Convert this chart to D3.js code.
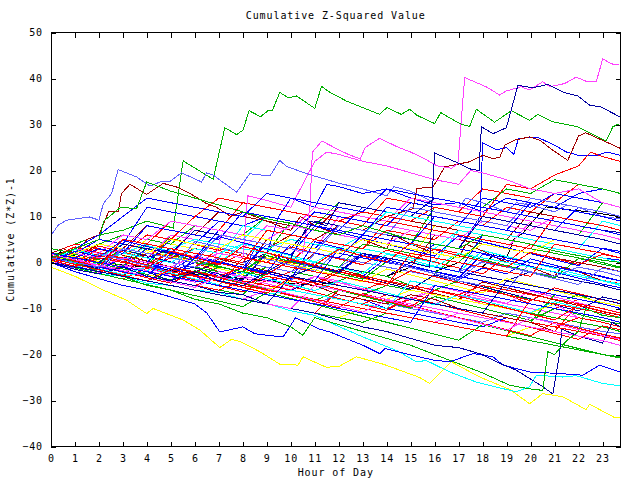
<!DOCTYPE html>
<html>
<head>
<meta charset="utf-8">
<script src="https://cdn.jsdelivr.net/npm/d3@7"></script>
<style>
  body { margin: 0; background: #fff; }
  text { font-family: "DejaVu Sans Mono", monospace; font-size: 10px; letter-spacing: 0.9px; fill: #000; }
</style>
</head>
<body>
<div id="chart"></div>
<script>
// ---------------- data ----------------
const title = "Cumulative Z-Squared Value";
const xLabel = "Hour of Day";
const yLabel = "Cumulative (Z*Z)-1";
const xTicks = [0,1,2,3,4,5,6,7,8,9,10,11,12,13,14,15,16,17,18,19,20,21,22,23];
const yTicks = [-40,-30,-20,-10,0,10,20,30,40,50];
const hourX = [0,1,2,3,4,5,6,7,8,9,10,11,12,13,14,15,16,17,18,19,20,21,22,23,23.75];

// traced lines: [hour, value]
const greenTop = [[0,2],[1,4],[2,6],[3,7],[4,9],[5.1,7.5],[5.51,22.1],[6.76,18.1],[7.25,29.3],[7.74,27.8],[8.01,28.8],[8.26,33],[8.74,31.7],[9.05,33],[9.23,33],[9.54,37],[9.89,35.8],[10.24,36.2],[11,33.5],[11.28,38.3],[11.63,37],[12.32,35.1],[13.71,32.2],[14.01,33.7],[14.61,32.2],[14.96,33.3],[15.26,32],[16,30.2],[16.25,32.6],[17.11,30],[17.46,29.6],[17.74,33.3],[18.5,30.5],[19.2,33],[19.96,30.9],[20.3,32.2],[20.93,30.6],[21.97,29.5],[23.15,26.4],[23.43,29.5],[23.71,30.2]];
const lightBlueTop = [[0,5.9],[0.3,8.1],[0.65,9.2],[1.6,9.9],[2,9.2],[2.18,12.8],[2.53,15],[2.8,20.2],[3.57,18.6],[4.13,16.6],[4.54,17.5],[4.96,17.6],[5.44,19.5],[6.28,17.5],[6.49,19.5],[6.76,19],[7.74,15.3],[8.29,19.3],[9.13,18.8],[9.54,22.2],[9.82,20.9],[10.72,19.2],[12.04,17.2],[13,16],[14,14.5],[14.3,16.5],[15,15.5],[16,13],[17,12],[17.3,14],[18,13],[19,11],[19.4,13],[20,12.5],[21,11],[21.5,12.5],[22,12],[23,10],[23.75,9.5]];
const darkRedEarly = [[0,2],[0.5,3],[1,2],[1.5,5],[2,6],[2.4,11],[2.8,11],[2.94,15],[3.29,17],[3.99,14.8],[4.68,17.2],[5.24,16.4],[5.8,15],[6.49,12.8],[6.9,12],[7.5,10],[8,11],[9,9],[10,7],[10.4,10],[11,8],[12,6],[13,5],[14,3],[14.3,6],[15,4],[16,2],[17,1],[17.3,4],[18,2.5],[19,0],[20,-1],[21,-3],[21.3,-1],[22,-2],[23,-4],[23.75,-5]];
const darkRedLate = [[0,0],[1,-1],[2,1],[3,0],[4,2],[5,1],[6,3],[7,2],[8,4],[9,3],[10,6],[11,5],[12,8],[13,7],[14,10],[15.1,11.7],[15.26,16.1],[15.93,16.4],[16.42,20.8],[17.46,21.9],[18.01,23.3],[18.43,22.6],[18.72,22.9],[18.92,25.5],[19.33,26.6],[19.96,27.3],[20.38,26.6],[20.93,24.4],[21.55,22.2],[22,27.5],[22.3,28.2],[23.15,26.2],[23.75,24.8]];
const magentaTop = [[0,0],[1,1],[2,-1],[3,1],[4,0],[5,-1],[6,1.5],[6.8,0],[7.1,6],[8,5],[9,4],[10,3],[10.5,2],[10.8,12],[10.9,24],[11.3,26.4],[12,24.5],[12.4,23.5],[12.9,22.5],[13.1,25],[13.7,27],[14.1,26],[14.5,25],[15,24],[15.6,22.5],[16.1,21],[16.7,20.5],[16.97,21.5],[17.25,40.2],[18.15,38.2],[18.71,36.4],[18.99,37.3],[19.61,38.2],[19.96,37.5],[20.51,39.3],[20.8,38.2],[21.42,38.9],[21.9,40.3],[22.32,39.4],[22.74,39.3],[23.01,44.3],[23.36,43.2],[23.71,42.9]];
const magentaMid = [[0,0],[1,2],[2,1],[3,3],[4,2],[5,1],[6,0],[7,2],[8,1],[8.2,14.5],[9,13.5],[10,12],[10.5,17],[11,22],[11.5,24],[12,23.5],[13,22],[14,21],[15,19.5],[16,18],[17,17],[17.5,20],[18,19.5],[19,18],[20,16],[21,15],[22,16],[23,13],[23.75,12]];
const navyTop = [[0,0],[1,-1.5],[2,-2.5],[3,-1],[4,-3],[5,-4],[6,-2],[7,-4],[8,-5],[9,-2],[10,-3],[11,-1],[12,-2],[13,2],[14,1],[15,0],[15.8,-1],[15.9,15],[16,23.8],[16.9,21.8],[17.5,20.3],[17.85,20],[17.95,29.5],[18.43,28],[18.99,29.3],[19.47,38.5],[20.1,38],[20.72,38.7],[21.42,36.9],[21.97,36.2],[22.46,34.2],[22.94,33.8],[23.71,31.7]];
const blueLate = [[0,1],[1,0],[2,-1],[3,1],[4,0],[5,-2],[6,-1],[7,-3],[8,-2],[9,-4],[10,-3],[11,-1],[12,-2],[13,-3],[14,1],[15,0],[16,4],[17,3],[17.9,10],[18,26],[18.6,24.5],[19,25],[19.3,23.5],[19.5,27],[20.3,27.2],[21,25.5],[21.5,24],[22,23.3],[22.7,23.2],[23.2,24],[23.75,23.3]];
const yellowLow = [[0,-1],[1,-3],[2.18,-6],[3.15,-8.2],[3.99,-11.1],[4.26,-10],[5.51,-12.5],[6.21,-14.7],[7.04,-18.5],[7.53,-16.7],[7.95,-17.3],[8.71,-19.4],[9.54,-22.1],[10.3,-22.3],[10.51,-20.5],[11.49,-22.8],[12.04,-22.5],[12.74,-20.5],[13.85,-22.1],[15.38,-25],[15.79,-26.3],[16.7,-21.6],[17.88,-24.9],[19.13,-27.6],[19.96,-30.7],[20.51,-28.5],[21.35,-29.2],[22.32,-32],[22.46,-30.8],[23.5,-33.7],[23.71,-33.6]];
const cyanLow = [[0,0],[1,-1],[2,-2.5],[3,-3],[4,-4.5],[5,-5],[6,-6],[7,-6.5],[8,-8],[8.99,-8.9],[10,-10.5],[11,-11.5],[12.04,-14],[13.01,-16.2],[14.4,-19.1],[15.24,-21.6],[15.65,-21.3],[16.63,-23.8],[17.74,-26],[18.99,-27.6],[19.4,-28.1],[19.96,-27],[20.24,-24.5],[21.35,-24.9],[21.9,-24.6],[23.01,-26.3],[23.71,-26.8]];
const blueLow = [[0,0],[1,-2],[2,-3.5],[3,-5],[4,-6],[5,-7.5],[6,-9],[6.5,-11],[7.04,-15.1],[8,-14],[8.5,-15.5],[9.68,-16.2],[10.2,-12],[10.6,-13],[11.2,-14.5],[11.63,-15.1],[13.01,-18],[13.71,-19.8],[13.92,-18.7],[15.1,-20.2],[15.93,-21.2],[16.63,-21.6],[17.6,-19.8],[18.43,-20.5],[18.85,-22.3],[19.96,-23.8],[21.07,-24.1],[22.18,-24.5],[22.88,-22.3],[23.71,-23.8]];
const navyLow = [[0,1],[1,0],[2,-1.5],[3,-3],[4,-2],[5,-4],[6,-5],[7,-6.5],[8,-7],[9,-9],[10,-10],[11,-11],[12,-12.5],[13,-14],[14,-15],[15,-16.5],[16,-18],[17,-18.5],[18,-20],[18.57,-21.6],[19.4,-23.4],[20.51,-27],[20.93,-28.6],[21.21,-19.8],[21.3,-14.5],[22,-16],[23,-17.5],[23.4,-13],[23.75,-14]];
const greenLow = [[0,2],[1,0],[2,-2],[3,-3],[4,-5],[5,-6],[6,-8],[7,-9],[8,-11],[9,-12],[10,-14],[10.5,-15.8],[11,-12],[12,-13.5],[13,-15],[14,-16.5],[15,-18],[16,-20],[17,-22],[18,-24],[19.13,-26.7],[20,-27.5],[20.51,-27.8],[20.72,-19.4],[21,-20],[21.5,-17],[22,-15],[22.3,-10],[23,-11.5],[23.75,-12]];
const greenUp = [[0,1],[1,3],[2,5],[2.2,9],[2.9,12],[3.57,11.7],[3.99,17.5],[4.5,16.5],[5,15.5],[6,14],[7,12.5],[8,11],[9,9.5],[10,8.5],[11,7],[12,6],[13,8],[14,6.5],[15,5],[16,4],[17,3],[18,6],[19,5],[20,4],[21,2.5],[22,1.5],[23,0.5],[23.75,0]];
const blackMid = [[0,0],[0.4,2.3],[2,0],[4,-1],[6,-2.5],[7,-3],[9,-4],[11,-5],[12,-4],[13,-2],[14,-3],[15,-1],[16,-2],[17,0],[18,-1],[18.5,2],[19,1],[19.3,5],[19.7,6.5],[20.1,9],[20.65,12.1],[21.5,11.5],[22.5,11],[23.75,9.9]];
const blueUp = [[0,0],[1,-1],[2,1],[3,0],[4,-1],[5,-2],[6,0],[7,-1],[8,-2],[8.5,3],[9,2],[9.5,10],[10,14],[10.5,13],[11,12],[11.5,17],[12,16.5],[13,15],[14,16],[15,14],[16,12.5],[17,13],[18,11],[19,14],[20,13],[21,12],[22,15],[23,16],[23.75,15]];
const navyUp = [[0,2],[1,1],[2,0],[3,2],[4,1],[5,3],[6,2],[7,1],[8,0],[9,2],[10,1],[10.8,9],[11.5,8],[12,13],[13,12],[14,11],[15,10],[16,14],[17,13],[18,12],[19,11],[20,10],[21,9],[22,8],[23,7],[23.75,6.5]];
const redUp = [[0,1],[1,0],[2,3],[3,2],[4,6],[5,5],[6,10],[7,14],[8,13],[9,12],[10,11],[11,10],[12,9],[13,11],[14,10],[15,9],[16,12],[17,11],[18,10],[19,17],[20,16],[21,19],[22,21],[22.5,24],[23,23],[23.75,22]];

// hourly lines (values at hourX)
const hourly = [
  [1,0.5,-0.5,3,2,1.5,0.5,-0.5,2,1,0,5,4,3,7,6,5,9,8,12,11,15,14,13,12],
  [2,1,3,2,1,0,-1,-2,-3,-1,-2,-3,-4,-2,-3,-5,-6,-4,-5,-7,-8,-9,-7,-9,-10],
  [0,3,5,4,12,11,10,9,8,10,9,8,7,12,11,10,9,8,14,13,12,15,14,13,12],
  [1,0,-1,-2,-1,-3,-4,-2,-3,-4,-5,-3,-4,-6,-7,-8,-6,-7,-9,-10,-11,-9,-12,-13,-14],
  [0,-1,0,2,1,0,3,2,4,3,5,4,3,6,5,4,3,7,6,5,4,3,2,1,0],
  [2,1,0,-1,-2,-3,-2,-4,-5,-3,-4,-5,-7,-8,-9,-7,-8,-10,-11,-12,-13,-15,-16,-17,-18],
  [0,2,4,3,2,5,4,3,6,5,4,3,2,5,4,3,2,1,4,3,2,5,4,3,2],
  [3,2,1,0,-1,1,0,-2,-3,-4,-2,-3,-5,-6,-4,-5,-7,-8,-6,-7,-9,-10,-8,-9,-10],
  [0,-1,-2,-3,-4,-2,-3,-5,-6,-7,-8,-9,-7,-8,-10,-11,-12,-13,-14,-12,-13,-15,-16,-17,-18],
  [1,2,4,6,5,4,8,7,6,10,9,8,13,12,11,10,14,13,12,16,15,18,17,16,15],
  [2,1,0,2,1,0,-1,1,0,-1,-2,0,-1,2,1,0,-1,-2,0,-1,-2,-3,-1,-2,-3],
  [0,-1,-2,-1,-3,-4,-5,-6,-4,-5,-6,-7,-8,-9,-10,-8,-9,-10,-11,-12,-13,-14,-12,-13,-14],
  [1,3,2,6,5,9,8,7,6,5,8,7,6,5,4,7,6,5,9,8,7,10,9,8,7],
  [0,-1,-2,-3,-2,-3,-4,-5,-6,-7,-6,-7,-8,-9,-10,-4,-5,-6,-7,-8,-9,-10,-11,-12,-13],
  [1,0,2,1,0,-1,-2,0,-1,-2,1,0,-1,-2,-3,0,-1,-2,-3,-4,-2,-3,-4,-5,-6],
  [2,4,3,2,1,0,-1,3,2,1,0,-1,-2,2,1,0,3,2,1,0,4,3,2,1,0],
  [0,-1,-2,-3,-4,-5,-6,-7,-8,-9,-10,-11,-12,-13,-11,-12,-13,-14,-15,-16,-17,-18,-19,-20,-20.5],
  [0,1,0,-1,3,2,1,7,6,5,4,3,8,7,6,5,4,3,2,1,0,-1,-2,-3,-4],
  [1,0,-1,-2,-3,-2,-3,-4,-5,-6,-4,-5,-6,-7,-8,-6,-7,-8,-9,-10,-11,-9,-10,-11,-12],
  [0,-1,1,0,-1,-2,-3,-4,-5,-3,-4,-5,-2,-3,-4,-5,-6,-7,-5,-6,-7,-8,-9,-10,-11],
  [1,0,-1,-2,-3,2,1,0,-1,4,3,2,1,6,5,4,10,9,8,7,6,5,4,3,2],
  [0,-1,-2,-3,-4,-5,-6,-7,-8,-6,-7,-8,-9,-10,-11,-12,-13,-11,-12,-13,-14,-15,-16,-17,-18],
  [0,2,1,0,4,3,2,1,0,-1,-2,2,1,0,-1,-2,-3,-4,-5,-6,-7,-8,-9,-10,-11],
  [0,-1,-2,-1,-2,-3,-4,-5,-6,-7,-8,-9,-7,-8,-9,-10,-11,-12,-13,-11,-12,-13,-14,-15,-15.5],
  [3,2,1,0,-1,-2,-3,-1,-2,-3,-4,-5,-6,-7,-5,-6,-7,-8,-9,-10,-11,-12,-13,-14,-15],
  [1,0,2,1,0,-1,-2,-3,-1,-2,-3,-4,-5,-6,-7,-8,-9,-10,-11,-12,-13,-14,-15,-16,-17],
  [0,1,3,2,4,3,5,4,3,2,1,0,3,2,1,0,-1,2,1,0,-1,-2,-3,-4,-5],
  [2,1,0,-1,-2,-3,-4,-5,-6,-7,-8,-9,-10,-11,-12,-13,-5,-6,-7,-8,-9,-10,-11,-12,-13],
  [0,-1,-2,-3,-4,-5,-6,-7,-8,-9,-10,-11,-12,-10,-11,-12,-13,-14,-15,-16,-14,-15,-16,-17,-18],
  [2,1,0,-1,0,-1,-2,-3,-4,-5,-6,-4,-5,-6,-7,-8,-9,-7,-8,-9,-10,-11,-12,-13,-14],
  [0,1,-1,-2,-3,-4,-5,-3,-4,-5,-6,-7,-8,-9,-7,-8,-9,-10,-11,-12,-13,-14,-15,-16,-16.5],
  [1,0,-1,-2,-3,-4,-2,-3,-4,-5,-6,-4,-5,-6,-7,-8,-9,-10,-11,-12,-13,-14,-15,-16,-17],
  [0,1,0,3,2,1,0,-1,-2,2,1,0,-1,4,3,2,1,0,5,4,3,2,1,0,-1],
  [1,2,1,0,-1,-2,-3,-4,-5,-6,-7,-8,-9,-10,-11,-12,-13,-14,-15,-16,-8,-9,-10,-11,-12],
  [0.5,-0.8,1.5,0.2,-1.1,2.4,1.0,-0.3,3.5,2.1,0.8,-0.6,2.9,1.4,0.1,4.2,2.8,1.5,0.3,-1,2.2,0.9,-0.4,1.8,1.0],
  [1.2,0.1,-1.3,0.9,-0.5,-1.8,1.4,0.2,-1.1,-2.5,0.4,-0.9,-2.2,1.6,0.3,-1.0,-2.4,-3.7,-1.2,-2.5,0.8,-0.6,-1.9,-3.2,-4.0],
  [0,1.8,0.6,-0.7,3.1,1.8,0.5,-0.8,-2.1,1.5,0.2,-1.1,-2.4,-3.6,0.2,-1.1,-2.4,1.9,0.6,-0.7,-2.0,-3.3,0.9,-0.4,-1.2],
  [2.1,0.9,3.6,2.3,1.0,5.2,3.9,2.6,1.3,0,3.4,2.1,0.8,-0.5,2.7,1.4,0.1,-1.2,-2.5,1.3,0,-1.3,-2.6,-3.9,-4.6],
  [0.3,-0.9,-2.1,-0.5,-1.8,-3.1,-4.3,-2.0,-3.3,-4.6,-5.9,-3.1,-4.4,-5.7,-7.0,-8.2,-5.0,-6.3,-7.6,-8.9,-6.2,-7.5,-8.8,-10.1,-10.9],
  [1.0,-0.2,-1.4,-2.6,-1.0,-2.3,-3.6,-4.8,-2.2,-3.5,-4.8,-6.1,-4.0,-5.3,-6.6,-7.9,-9.2,-7.0,-8.3,-9.6,-10.9,-8.5,-9.8,-11.1,-11.9],
  [0,2.5,1.2,4.8,3.5,2.2,0.9,5.6,4.3,3.0,1.7,7.9,6.6,5.3,4.0,2.7,1.4,5.8,4.5,3.2,1.9,0.6,-0.7,3.1,2.4],
  [0.8,-0.4,-1.6,-2.8,-4.0,-1.5,-2.8,-4.1,-5.4,-6.7,-3.2,-4.5,-5.8,-7.1,-8.4,-9.7,-6.0,-7.3,-8.6,-9.9,-11.2,-12.5,-9.3,-10.6,-11.4],
  [1.5,0.3,2.9,1.6,0.3,-1.0,-2.3,0.8,-0.5,-1.8,-3.1,-4.4,-1.5,-2.8,-4.1,-5.4,-6.7,-8.0,-4.2,-5.5,-6.8,-8.1,-9.4,-10.7,-11.5],
  [0,1.4,0.2,-1.0,2.6,1.3,0,-1.3,-2.6,1.0,-0.3,-1.6,-2.9,-4.2,-1.4,-2.7,-4.0,-5.3,-6.6,-3.5,-4.8,-6.1,-7.4,-8.7,-9.5],
  [2.2,1.0,-0.2,-1.4,-2.6,-3.8,-1.8,-3.1,-4.4,-5.7,-7.0,-8.3,-6.0,-7.3,-8.6,-9.9,-7.4,-8.7,-10.0,-11.3,-12.6,-10.0,-11.3,-12.6,-13.4],
  [0.4,-0.8,-2.0,1.2,-0.1,-1.4,-2.7,-4.0,-1.0,-2.3,-3.6,4.5,3.2,1.9,0.6,-0.7,-2.0,-3.3,1.8,0.5,-0.8,-2.1,-3.4,-4.7,-5.5],
  [1.0,3.4,2.1,0.8,-0.5,2.5,1.2,-0.1,-1.4,-2.7,0.6,-0.7,-2.0,-3.3,-4.6,-1.8,-3.1,-4.4,-5.7,-7.0,-8.3,-5.5,-6.8,-8.1,-8.9],
  [0,-1.2,1.9,0.6,-0.7,-2.0,4.6,3.3,2.0,0.7,-0.6,-1.9,2.8,1.5,0.2,-1.1,-2.4,-3.7,0.4,-0.9,-2.2,-3.5,-4.8,-1.2,-2.0],
  [1.8,0.6,-0.6,-1.8,-3.0,-4.2,-5.4,-3.0,-4.3,-5.6,-6.9,-8.2,-9.5,-10.8,-8.2,-9.5,-10.8,-12.1,-13.4,-14.7,-12.0,-13.3,-14.6,-15.9,-16.7],
  [0,-1.2,-2.4,-3.6,-1.2,-2.5,-3.8,-5.1,-6.4,-3.9,-5.2,-6.5,-7.8,-9.1,-10.4,-7.6,-8.9,-10.2,-11.5,-12.8,-14.1,-15.4,-16.7,-13.8,-14.6],
  [1.3,0.1,-1.1,2.7,1.4,0.1,-1.2,-2.5,-3.8,2.0,0.7,-0.6,-1.9,-3.2,-4.5,-5.8,-2.7,-4.0,-5.3,-6.6,-7.9,-9.2,-10.5,-7.5,-8.3],
  [0.6,2.8,1.5,0.2,3.7,2.4,1.1,-0.2,4.1,2.8,1.5,0.2,-1.1,-2.4,1.8,0.5,-0.8,-2.1,2.6,1.3,0,-1.3,-2.6,-3.9,-4.7],
  [0,-1.2,-2.4,-3.6,-4.8,-6.0,-7.2,-8.4,-9.6,-6.5,-7.8,-9.1,-10.4,-11.7,-13.0,-14.3,-15.6,-16.9,-13.5,-14.8,-16.1,-17.4,-18.7,-20.0,-20.8],
  [1.5,0.3,-0.9,-2.1,-3.3,-4.5,-2.0,-3.3,-4.6,-5.9,-7.2,-8.5,-9.8,-6.8,-8.1,-9.4,-10.7,-12.0,-13.3,-14.6,-15.9,-13.0,-14.3,-15.6,-16.4],
  [0,1,3,2,8,7,6,5,11,10,9,8,7,6,12,11,10,9,8,7,13,12,11,10,9],
  [1,0,-1,5,4,3,2,1,0,7,6,5,4,3,9,8,7,6,5,4,3,10,9,8,7],
  [0,2,1,0,-1,6,5,4,3,2,9,8,7,6,5,4,12,11,10,9,8,7,6,13,12],
  [2,1,4,3,2,1,8,7,6,5,4,3,10,9,8,7,6,5,4,3,9,8,7,6,5],
  [0,-1,-2,-3,2,1,0,-1,-2,5,4,3,2,1,0,-1,6,5,4,3,2,1,0,-1,-2],
  [1,0,-1,-2,-3,-4,1,0,-1,-2,-3,-4,3,2,1,0,-1,-2,6,5,4,3,2,1,0.5],
  [0,1,0,-1,-2,3,2,1,8,7,6,5,4,3,2,1,0,7,6,5,4,3,2,1,0],
  [2,1,0,-1,-2,-3,-4,-5,1,0,-1,-2,-3,-4,-5,2,1,0,-1,-2,-3,4,3,2,1],
  [0,-1,-2,-3,-4,-5,-6,-7,-8,-9,-3,-4,-5,-6,-7,-8,-9,-10,-11,-4,-5,-6,-7,-8,-9],
  [1,3,2,1,5,4,3,2,1,0,6,5,4,3,2,1,8,7,6,5,4,3,2,1,0],
  [0,-1,-2,3,2,1,0,-1,-2,-3,-4,2,1,0,-1,-2,-3,-4,-5,-6,0,-1,-2,-3,-4],
  [0,-1,-2,-3,-4,-5,-6,-7,-8,-9,-10,-11,-6,-7,-8,-9,-10,-11,-12,-13,-14,-15,-9,-10,-11],
  [1,0,-1,-2,-3,-4,-5,-6,-7,-2,-3,-4,-5,-6,-7,-8,-9,-10,-11,-12,-13,-7,-8,-9,-10],
  [0,2,5,4,3,2,1,0,-1,-2,4,3,2,1,0,-1,-2,-3,-4,-5,-6,-7,-8,-9,-10],
  [0,-1,-2,-3,-4,-5,-6,-7,-8,-9,-10,-5,-6,-7,-8,-9,-10,-11,-12,-13,-14,-15,-16,-17,-18],
  [1,3,6,10,14,13,12,11,10,15,14,13,12,11,16,15,14,13,12,11,10,9,8,7,6],
  [0,2,1,5,4,9,8,7,13,12,11,10,9,8,14,13,12,11,16,15,14,13,17,16,15],
  [2,1,4,3,8,7,6,11,10,9,8,7,12,11,10,9,8,7,6,5,11,10,9,8,7],
  [1,0,3,2,1,6,5,4,3,8,7,12,11,10,9,14,13,12,11,10,9,8,7,6,5],
  [0,-1,2,1,0,5,4,9,8,7,6,11,10,9,8,13,12,11,10,9,8,7,12,11,10],
  [0,2,1,4,3,2,7,6,5,10,9,8,7,6,11,10,9,8,7,6,5,4,3,9,8],
  [2,1,0,4,3,2,7,6,5,4,3,9,8,7,6,5,4,3,10,9,8,7,6,5,4],
  [1,0,-1,3,2,1,0,6,5,4,3,2,8,7,6,12,11,10,9,8,14,13,12,11,10]
];
const hourlyColors = ["#ff0000","#00b000","#0000ff","#ff40ff","#00ffff","#a00000","#ffff00","#ff0000","#0000ff","#00b000",
  "#6060ff","#ff0000","#ff40ff","#00ffff","#0000a0","#ff0000","#00b000","#0000ff","#ffff00","#ff0000",
  "#0000ff","#ff40ff","#a00000","#6060ff","#00b000","#ff0000","#00ffff","#0000ff","#ffff00","#ff40ff",
  "#ff0000","#0000a0","#00b000","#ff0000",
  "#ff0000","#0000ff","#00b000","#ff0000","#ff40ff","#00ffff","#0000ff","#ff0000","#a00000","#ffff00",
  "#00b000","#0000ff","#ff0000","#6060ff","#ff40ff","#ff0000","#0000a0","#00ffff","#00b000","#ff0000",
  "#0000ff","#ff0000","#00b000","#ff40ff","#a00000","#0000ff","#00ffff","#ff0000","#0000a0","#ffff00",
  "#6060ff","#ff0000","#00b000","#0000ff","#ff40ff",
  "#0000ff","#ff0000","#a00000","#ff40ff","#0000ff","#00ffff","#0000a0","#6060ff"];

const traced = [greenTop, lightBlueTop, darkRedEarly, darkRedLate, magentaTop, magentaMid, navyTop, blueLate,
  yellowLow, cyanLow, blueLow, navyLow, greenLow, greenUp, blackMid, blueUp, navyUp, redUp];
const tracedColors = ["#00b000","#6060ff","#a00000","#a00000","#ff40ff","#ff40ff","#0000a0","#0000ff",
  "#ffff00","#00ffff","#0000ff","#0000a0","#00b000","#00b000","#000000","#0000ff","#0000a0","#ff0000"];

// ---------------- chart ----------------
const width = 640, height = 480;
const margin = { top: 32.5, right: 19.5, bottom: 33.5, left: 51 };

const svg = d3.select("#chart").append("svg")
  .attr("width", width).attr("height", height);

const xScale = d3.scaleLinear().domain([0, 23.75]).range([margin.left, width - margin.right]);
const yScale = d3.scaleLinear().domain([-40, 50]).range([height - margin.bottom, margin.top]);

svg.append("clipPath").attr("id", "plot")
  .append("rect")
  .attr("x", margin.left).attr("y", margin.top)
  .attr("width", width - margin.left - margin.right)
  .attr("height", height - margin.top - margin.bottom);

const line = d3.line().x((d) => xScale(d[0])).y((d) => yScale(d[1]));

let series = [];
hourly.forEach((vals, i) => series.push({ pts: vals.map((v, j) => [hourX[j], v]), color: hourlyColors[i] }));
traced.forEach((pts, i) => series.push({ pts: pts, color: tracedColors[i] }));
// mix drawing order so colours overlap
series = series.map((s, i) => ({ ...s, k: (i % 7) * 1000 + i })).sort((a, b) => a.k - b.k);

svg.append("g").attr("clip-path", "url(#plot)")
  .selectAll("path")
  .data(series)
  .join("path")
  .attr("d", (d) => line(d.pts))
  .attr("fill", "none")
  .attr("stroke", (d) => d.color)
  .attr("stroke-width", 1)
  .attr("shape-rendering", "crispEdges");

// axes (ticks inside, mirrored)
const tick = 5;
const xAxisB = d3.axisBottom(xScale).tickValues(xTicks).tickSize(-tick).tickPadding(8).tickSizeOuter(0);
const xAxisT = d3.axisTop(xScale).tickValues(xTicks).tickSize(-tick).tickFormat("").tickSizeOuter(0);
const yAxisL = d3.axisLeft(yScale).tickValues(yTicks).tickSize(-tick).tickPadding(8).tickSizeOuter(0);
const yAxisR = d3.axisRight(yScale).tickValues(yTicks).tickSize(-tick).tickFormat("").tickSizeOuter(0);

svg.append("g").attr("transform", `translate(0,${height - margin.bottom})`).call(xAxisB);
svg.append("g").attr("transform", `translate(0,${margin.top})`).call(xAxisT);
svg.append("g").attr("transform", `translate(${margin.left},0)`).call(yAxisL);
svg.append("g").attr("transform", `translate(${width - margin.right},0)`).call(yAxisR);

svg.selectAll(".tick line").attr("stroke", "#000").attr("shape-rendering", "crispEdges");
svg.selectAll(".domain").remove();
svg.selectAll(".tick text")
  .attr("font-family", "DejaVu Sans Mono").attr("font-size", "10px")
  .attr("letter-spacing", "0.9px").attr("fill", "#000");

svg.append("rect")
  .attr("x", margin.left).attr("y", margin.top)
  .attr("width", width - margin.left - margin.right)
  .attr("height", height - margin.top - margin.bottom)
  .attr("fill", "none").attr("stroke", "#000").attr("shape-rendering", "crispEdges");

const cx = (margin.left + width - margin.right) / 2;
svg.append("text").attr("x", cx).attr("y", 19).attr("text-anchor", "middle").text(title);
svg.append("text").attr("x", cx).attr("y", 476).attr("text-anchor", "middle").text(xLabel);
svg.append("text")
  .attr("transform", `translate(14,${(margin.top + height - margin.bottom) / 2}) rotate(-90)`)
  .attr("text-anchor", "middle").text(yLabel);
</script>
</body>
</html>
